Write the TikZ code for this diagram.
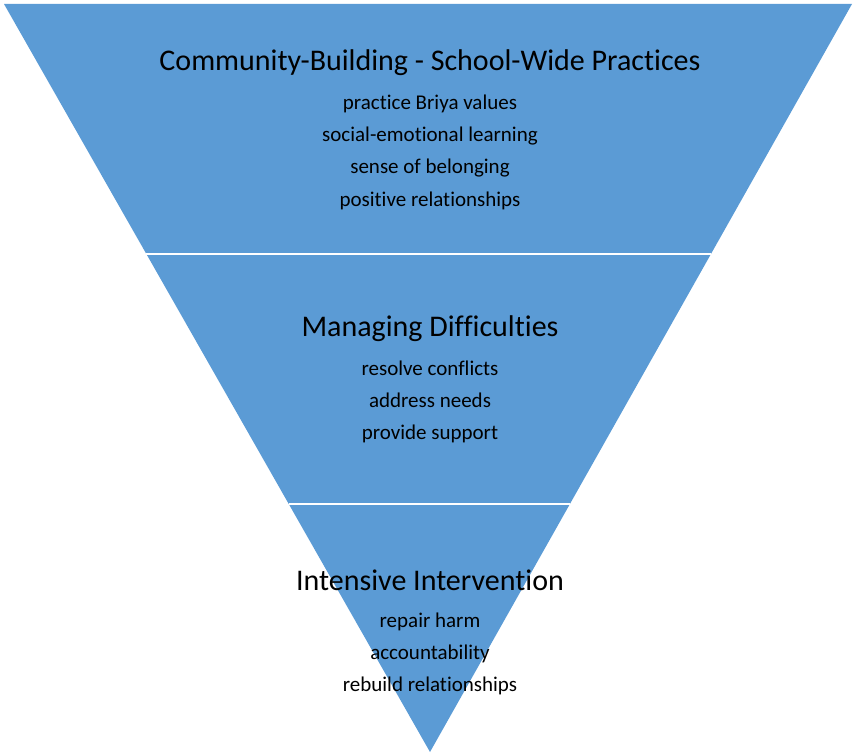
\documentclass[tikz,border=0pt]{standalone}
\usepackage{fontspec}
\setmainfont[Ligatures=NoCommon]{Carlito}
\usetikzlibrary{calc}
\definecolor{tierblue}{HTML}{5B9BD5}
\tikzset{
  tiertitle/.style={font=\fontsize{30}{36}\selectfont, text=black},
  tieritems/.style={font=\fontsize{21}{32.3}\selectfont, align=center, text=black},
  tiersep/.style={white, line width=2pt}
}
\begin{document}
\begin{tikzpicture}[x=1pt,y=-1pt]
            \useasboundingbox (0,0) rectangle (855,754);
            % Triangle inversé et ses trois niveaux
            \coordinate (tl) at (4,4);
            \coordinate (tr) at (852,4);
            \coordinate (apex) at (430,752);
            \fill[tierblue] (tl) -- (tr) -- (apex) -- cycle;
            \draw[tiersep] ($(tl)!0.3342!(apex)$) -- ($(tr)!0.3342!(apex)$);
            \draw[tiersep] ($(tl)!0.6684!(apex)$) -- ($(tr)!0.6684!(apex)$);
            % Textes
            \node[tiertitle] (cbtitle) at (430,62.5) {Community-Building - School-Wide Practices};
            \node[tieritems] (cbitems) at (430,152) {practice Briya values\\social-emotional learning\\sense of belonging\\positive relationships};
            \node[tiertitle] (mdtitle) at (430,328.5) {Managing Difficulties};
            \node[tieritems] (mditems) at (430,402) {resolve conflicts\\address needs\\provide support};
            \node[tiertitle] (iititle) at (430,580.5) {Intensive Intervention};
            \node[tieritems] (iiitems) at (430,654) {repair harm\\accountability\\rebuild relationships};
\end{tikzpicture}
\end{document}
